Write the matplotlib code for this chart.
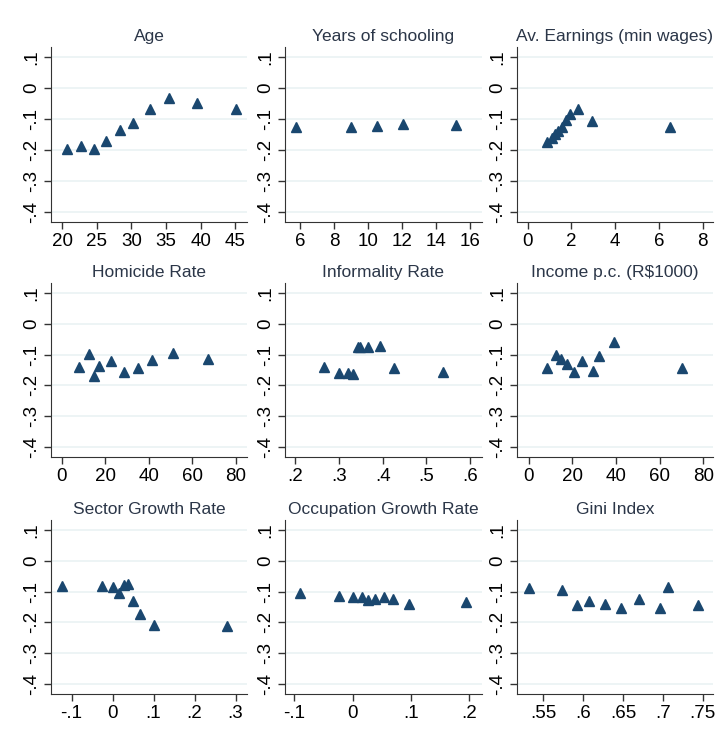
import numpy as np
import matplotlib
matplotlib.use("Agg")
import matplotlib.pyplot as plt
from matplotlib.ticker import FuncFormatter

plt.rcParams['font.family'] = ['Liberation Sans', 'DejaVu Sans']

# data (x value, coefficient)
age_x = [20.7, 22.8, 24.6, 26.4, 28.3, 30.3, 32.7, 35.5, 39.5, 45.1]
age_y = [-0.197, -0.186, -0.198, -0.171, -0.135, -0.114, -0.069, -0.032, -0.047, -0.069]

school_x = [5.75, 9.0, 10.5, 12.05, 15.15]
school_y = [-0.127, -0.127, -0.122, -0.117, -0.120]

earn_x = [0.88, 1.1, 1.25, 1.4, 1.55, 1.75, 1.95, 2.28, 2.93, 6.52]
earn_y = [-0.175, -0.16, -0.148, -0.138, -0.127, -0.103, -0.085, -0.067, -0.105, -0.127]

homic_x = [7.8, 12.7, 14.7, 17.3, 22.8, 28.6, 35.2, 41.3, 51.2, 67.1]
homic_y = [-0.140, -0.097, -0.169, -0.138, -0.122, -0.157, -0.144, -0.116, -0.096, -0.114]

inform_x = [0.266, 0.301, 0.320, 0.332, 0.343, 0.349, 0.366, 0.393, 0.427, 0.537]
inform_y = [-0.140, -0.159, -0.161, -0.164, -0.075, -0.075, -0.077, -0.071, -0.143, -0.158]

income_x = [8.4, 12.7, 14.8, 17.7, 20.8, 24.3, 29.3, 32.4, 39.2, 70.2]
income_y = [-0.143, -0.100, -0.113, -0.132, -0.155, -0.122, -0.152, -0.104, -0.059, -0.142]

sector_x = [-0.124, -0.026, 0.002, 0.015, 0.027, 0.038, 0.051, 0.068, 0.100, 0.280]
sector_y = [-0.083, -0.081, -0.084, -0.106, -0.080, -0.077, -0.131, -0.174, -0.209, -0.212]

occup_x = [-0.090, -0.023, 0.001, 0.016, 0.027, 0.039, 0.053, 0.070, 0.097, 0.194]
occup_y = [-0.106, -0.115, -0.116, -0.116, -0.127, -0.125, -0.117, -0.124, -0.139, -0.133]

gini_x = [0.532, 0.574, 0.592, 0.607, 0.627, 0.647, 0.670, 0.696, 0.707, 0.744]
gini_y = [-0.089, -0.096, -0.145, -0.131, -0.140, -0.153, -0.125, -0.153, -0.085, -0.144]

titles = ["Age", "Years of schooling", "Av. Earnings (min wages)",
          "Homicide Rate", "Informality Rate", "Income p.c. (R$1000)",
          "Sector Growth Rate", "Occupation Growth Rate", "Gini Index"]
xs = [age_x, school_x, earn_x, homic_x, inform_x, income_x, sector_x, occup_x, gini_x]
ys = [age_y, school_y, earn_y, homic_y, inform_y, income_y, sector_y, occup_y, gini_y]
xticks = [np.arange(20, 46, 5), np.arange(6, 17, 2), np.arange(0, 9, 2),
          np.arange(0, 81, 20), [0.2, 0.3, 0.4, 0.5, 0.6], np.arange(0, 81, 20),
          [-0.1, 0, 0.1, 0.2, 0.3], [-0.1, 0, 0.1, 0.2], [0.55, 0.6, 0.65, 0.7, 0.75]]
xlims = [(18.4, 46.7), (5.12, 16.7), (-0.49, 8.47),
         (-4.9, 85), (0.177, 0.627), (-5.4, 84.5),
         (-0.150, 0.328), (-0.116, 0.222), (0.517, 0.763)]
yticks = [0.1, 0, -0.1, -0.2, -0.3, -0.4]


def stata_fmt(v, pos=None):
    s = "%g" % round(v, 4)
    if s == "-0":
        s = "0"
    if s.startswith("0."):
        s = s[1:]
    elif s.startswith("-0."):
        s = "-" + s[2:]
    return s


W, H = 719, 730
fig = plt.figure(figsize=(W / 100, H / 100), dpi=100)
fig.patch.set_facecolor("white")

col_left = [51, 285, 517]
col_right = [247, 482, 713]
row_top = [47, 283, 520]
row_bot = [222, 457, 694]

for i in range(9):
    r, c = divmod(i, 3)
    l, rt = col_left[c], col_right[c]
    t, b = row_top[r], row_bot[r]
    ax = fig.add_axes([l / W, 1 - b / H, (rt - l) / W, (b - t) / H])
    ax.set_xlim(*xlims[i])
    ax.set_ylim(-0.432, 0.132)
    for g in yticks:
        ax.axhline(g, color="#eaf2f3", lw=1.2, zorder=0)
    ax.plot(xs[i], ys[i], linestyle="none", marker="^", ms=7.5,
            color="#1a476f", zorder=3)
    ax.set_xticks(xticks[i])
    ax.set_yticks(yticks)
    ax.xaxis.set_major_formatter(FuncFormatter(stata_fmt))
    ax.yaxis.set_major_formatter(FuncFormatter(stata_fmt))
    for lab in ax.get_yticklabels():
        lab.set_rotation(90)
        lab.set_va("center")
    ax.tick_params(axis="both", labelsize=13.5, length=5, width=1,
                   color="#333333", direction="out", pad=3)
    ax.spines["top"].set_visible(False)
    ax.spines["right"].set_visible(False)
    ax.spines["left"].set_color("#333333")
    ax.spines["bottom"].set_color("#333333")
    ax.set_title(titles[i], fontsize=12.5, color="#2b3648", pad=4)

fig.savefig("out.png", dpi=100, facecolor="white")
